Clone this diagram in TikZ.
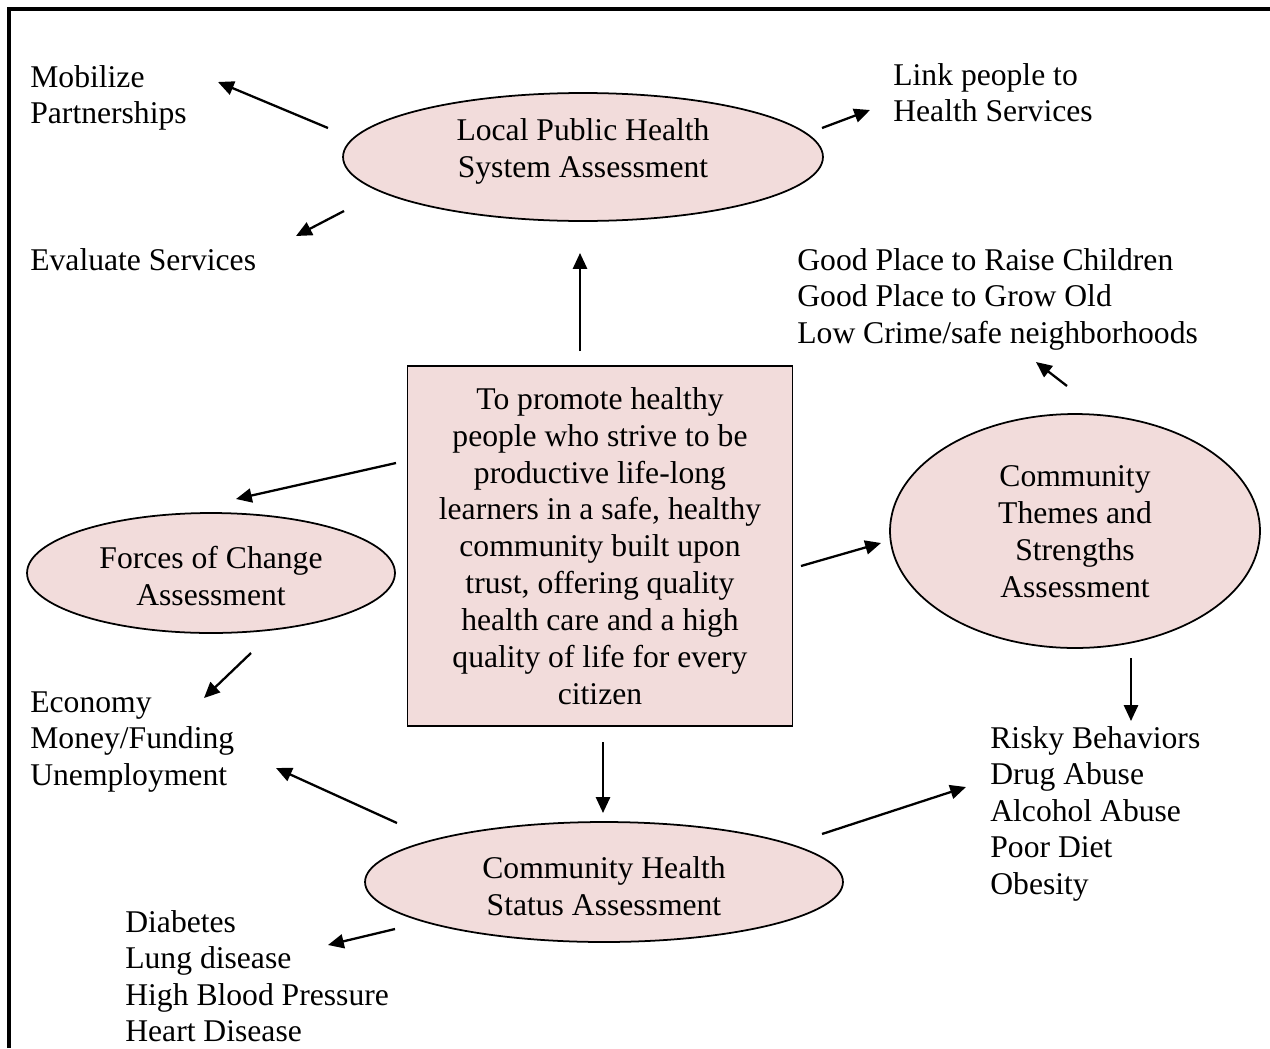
\documentclass[tikz,border=0pt]{standalone}
\usepackage{fontspec}
\setmainfont{Liberation Serif}
\usetikzlibrary{shapes.geometric,arrows.meta}
\definecolor{assessfill}{HTML}{F2DCDB}

\begin{document}
\begin{tikzpicture}[x=0.02cm, y=-0.02cm]

    \tikzset{every node/.style={font=\fontsize{18}{21}\selectfont, inner sep=0pt},
             assess/.style={draw, ellipse, fill=assessfill, line width=1pt},
             visionbox/.style={draw, rectangle, fill=assessfill, line width=1pt,
                               minimum width=7.7cm, minimum height=7.2cm, align=center},
             itemlist/.style={anchor=base west, align=left, font=\fontsize{18}{20.8}\selectfont},
             arr/.style={-{Triangle[length=9pt,width=8pt]}, line width=1.3pt}}

    \useasboundingbox (0,0) rectangle (1270,1048);
    \draw[line width=1.8pt] (9,1048) -- (9,9) -- (1270,9);

    % the four assessments
    \node[assess, minimum width=9.6cm, minimum height=2.56cm] (lphs) at (583,157) {};
    \node[align=center] (lphs-txt) at (583,151) {Local Public Health\\System Assessment};

    \node[assess, minimum width=7.36cm, minimum height=2.4cm] (forces) at (211,573) {};
    \node[align=center] (forces-txt) at (211,576) {Forces of Change\\Assessment};

    \node[assess, minimum width=7.4cm, minimum height=4.68cm] (themes) at (1075,531) {};
    \node[align=center] (themes-txt) at (1075,532) {Community\\Themes and\\Strengths\\Assessment};

    \node[assess, minimum width=9.56cm, minimum height=2.4cm] (chs) at (604,882) {};
    \node[align=center] (chs-txt) at (604,886) {Community Health\\Status Assessment};

    \node[visionbox] (vision) at (600,546) {To promote healthy\\people who strive to be\\productive life-long\\learners in a safe, healthy\\community built upon\\trust, offering quality\\health care and a high\\quality of life for every\\citizen};

    % outcome lists (base = last line)
    \node[itemlist] (mobilize) at (30,123.6) {Mobilize\\Partnerships};
    \node[itemlist] (evaluate) at (30,270) {Evaluate Services};
    \node[itemlist] (link) at (893,121.6) {Link people to\\Health Services};
    \node[itemlist] (place) at (797,343.2) {Good Place to Raise Children\\Good Place to Grow Old\\Low Crime/safe neighborhoods};
    \node[itemlist] (economy) at (30,785.2) {Economy\\Money/Funding\\Unemployment};
    \node[itemlist] (risky) at (990,894.4) {Risky Behaviors\\Drug Abuse\\Alcohol Abuse\\Poor Diet\\Obesity};
    \node[itemlist] (disease) at (125,1041.8) {Diabetes\\Lung disease\\High Blood Pressure\\Heart Disease};

    \coordinate (a1) at (328,128);  \coordinate (b1) at (218,82);
    \coordinate (a2) at (344,211);  \coordinate (b2) at (296,236);
    \coordinate (a3) at (822,128);  \coordinate (b3) at (870,110);
    \coordinate (a4) at (580,351);  \coordinate (b4) at (580,253);
    \coordinate (a5) at (1067,386); \coordinate (b5) at (1036,362);
    \coordinate (a6) at (396,463);  \coordinate (b6) at (236,499);
    \coordinate (a7) at (801,566);  \coordinate (b7) at (881,543);
    \coordinate (a8) at (251,653);  \coordinate (b8) at (204,698);
    \coordinate (a9) at (603,742);  \coordinate (b9) at (603,813);
    \coordinate (a10) at (397,823); \coordinate (b10) at (276,768);
    \coordinate (a11) at (822,834); \coordinate (b11) at (966,787);
    \coordinate (a12) at (1131,658); \coordinate (b12) at (1131,721);
    \coordinate (a13) at (395,929); \coordinate (b13) at (328,945);

    \foreach \i in {1,...,13}
        \draw[arr] (a\i) -- (b\i);
\end{tikzpicture}
\end{document}
